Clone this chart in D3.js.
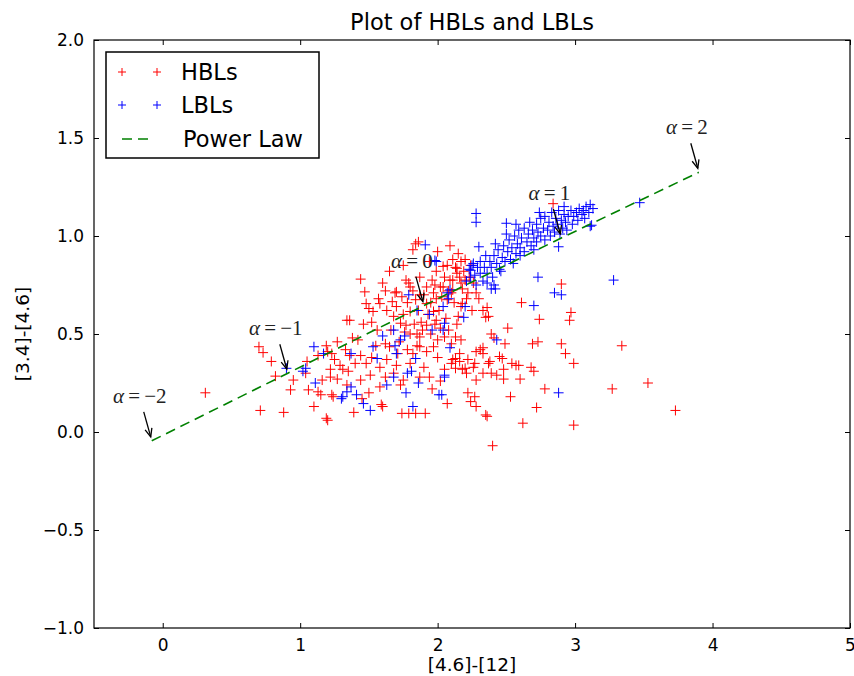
<!DOCTYPE html>
<html>
<head>
<meta charset="utf-8">
<script src="https://cdn.jsdelivr.net/npm/d3@7/dist/d3.min.js"></script>
<style>
    body { margin: 0; background: #fff; }
    svg { font-family: "DejaVu Sans", sans-serif; }
</style>
</head>
<body>
<div id="plot"></div>
<script>
// HBL sources, [x, y] = [[4.6]-[12], [3.4]-[4.6]]
const hblPoints = [
    [0.31,0.20],[0.70,0.435],[0.73,0.405],[0.79,0.36],[0.82,0.285],[0.95,0.265],[0.93,0.215],[1.06,0.215],
    [1.05,0.36],[1.04,0.30],[1.16,0.265],[1.13,0.205],[1.22,0.28],[1.24,0.18],[1.19,0.44],[1.27,0.46],
    [1.34,0.57],[1.20,0.41],[1.25,0.37],[1.29,0.34],[1.31,0.32],[1.22,0.32],[1.27,0.27],[1.10,0.13],
    [0.71,0.11],[0.88,0.10],[1.19,0.07],[1.36,0.39],[1.15,0.19],[1.20,0.06],[1.13,0.39],
    [1.84,0.96],[1.65,0.82],[1.44,0.78],[1.47,0.715],[1.48,0.655],[1.50,0.63],[1.36,0.57],[1.52,0.56],
    [1.56,0.52],[1.23,0.40],[1.33,0.42],[1.44,0.39],[1.48,0.35],[1.35,0.31],[1.44,0.265],[1.51,0.29],
    [1.58,0.23],[1.23,0.19],[1.59,0.14],[1.39,0.10],[1.74,0.095],[1.84,0.095],[1.91,0.095],[2.07,0.145],
    [1.63,0.37],[1.70,0.34],[1.75,0.265],[1.87,0.28],[1.94,0.28],[2.11,0.37],[2.13,0.325],[1.73,0.555],
    [1.77,0.545],[1.85,0.44],[1.87,0.435],[1.82,0.40],[1.65,0.435],[1.62,0.45],[1.68,0.59],[1.70,0.64],
    [1.67,0.665],[1.70,0.715],[1.74,0.69],[1.80,0.615],[1.88,0.56],[1.92,0.545],[1.99,0.57],[1.97,0.615],
    [1.92,0.655],[1.99,0.68],[2.04,0.74],[2.11,0.775],[2.14,0.81],[2.15,0.91],[2.20,0.88],[2.07,0.85],
    [2.17,0.76],[2.10,0.71],[2.17,0.64],[2.15,0.59],[2.13,0.485],[2.17,0.47],[2.00,0.47],[1.97,0.435],
    [2.05,0.485],[1.84,0.675],[1.79,0.76],[1.60,0.76],[1.58,0.655],[1.63,0.62],[1.53,0.615],[1.85,0.50],
    [1.80,0.50],[1.87,0.485],[1.69,0.71],[1.79,0.095],[1.60,0.13],
    [1.86,0.97],[1.82,0.93],[2.11,0.88],[2.17,0.87],[2.14,0.835],[2.04,0.845],[1.99,0.82],[2.16,0.79],
    [2.20,0.775],[2.09,0.775],[1.96,0.775],[1.87,0.79],[1.77,0.775],[1.80,0.74],[1.92,0.74],[2.02,0.74],
    [2.11,0.725],[2.22,0.71],[2.26,0.76],[2.28,0.71],[1.97,0.71],[1.87,0.70],[2.07,0.675],[2.18,0.655],
    [2.33,0.62],[2.37,0.59],[2.84,1.165],
    [2.90,0.755],[2.97,0.61],[2.96,0.57],[2.90,0.45],[2.93,0.40],[2.99,0.35],[3.34,0.44],[3.27,0.22],
    [3.53,0.25],[3.73,0.11],[2.99,0.035],[2.61,0.66],[2.74,0.575],[2.36,0.635],[2.35,0.585],[2.51,0.53],
    [2.39,0.50],[2.41,0.48],[2.49,0.45],[2.69,0.45],[2.73,0.46],[2.31,0.42],[2.33,0.40],[2.45,0.385],
    [2.37,0.35],[2.54,0.35],[2.59,0.34],[2.48,0.32],[2.68,0.33],[2.70,0.31],[2.43,0.29],[2.39,0.30],
    [2.48,0.27],[2.27,0.35],[2.26,0.33],[2.22,0.37],[2.16,0.40],[2.13,0.375],[2.10,0.35],[2.21,0.30],
    [2.18,0.32],[2.33,0.30],[2.78,0.22],[2.53,0.18],[2.22,0.20],[2.27,0.18],[2.24,0.155],[2.28,0.13],
    [2.72,0.125],[2.36,0.08],[2.62,0.045],[2.40,-0.07],[2.60,0.27],[2.57,0.34],[2.47,0.375],[2.38,0.36],
    [2.28,0.265],[2.20,0.325],[2.28,0.41],[2.33,0.43],[2.16,0.36],[2.35,0.087],
    [1.75,0.60],[1.78,0.66],[1.82,0.72],[1.86,0.62],[1.90,0.70],[1.93,0.60],[1.95,0.66],[1.98,0.75],
    [2.01,0.62],[2.03,0.69],[2.05,0.79],[2.06,0.58],[2.08,0.72],[2.12,0.66],[2.13,0.84],[2.18,0.73],
    [2.19,0.82],[2.21,0.68],[2.23,0.79],[2.24,0.85],[2.02,0.53],[1.89,0.52],[1.83,0.55],[1.76,0.51],
    [1.72,0.46],[1.66,0.52],[1.71,0.40],[1.78,0.42],[1.92,0.41],[1.95,0.50],[2.08,0.52],[2.10,0.45],
    [1.68,0.30],[1.80,0.35],[1.90,0.33],[2.00,0.38],[2.05,0.32],[1.73,0.24],[1.96,0.22],[2.02,0.26],
    [1.55,0.44],[1.58,0.33],[1.42,0.47],[1.40,0.35],[1.46,0.55],[1.38,0.48],[1.52,0.38],[1.62,0.28],
    [1.50,0.20],[1.45,0.17],[1.34,0.24],[1.57,0.68],[1.62,0.72],[1.75,0.85],[1.94,0.87],[2.00,0.92],
    [2.09,0.95],[1.98,0.55],[2.14,0.55],[2.25,0.62],[2.30,0.68]
];

// LBL sources
const lblPoints = [
    [2.21,0.77],[2.23,0.83],[2.24,0.79],[2.26,0.86],[2.27,0.80],[2.28,0.75],[2.29,0.84],[2.31,0.81],
    [2.31,0.87],[2.33,0.77],[2.34,0.84],[2.35,0.90],[2.36,0.81],[2.38,0.87],[2.39,0.84],[2.40,0.79],
    [2.41,0.90],[2.43,0.86],[2.44,0.93],[2.45,0.83],[2.47,0.89],[2.48,0.95],[2.49,0.87],[2.51,0.92],
    [2.52,0.98],[2.53,0.88],[2.54,0.94],[2.56,1.00],[2.57,0.91],[2.58,0.96],[2.59,1.03],[2.60,0.94],
    [2.61,0.99],[2.63,0.92],[2.63,1.04],[2.65,0.97],[2.66,1.01],[2.67,1.07],[2.68,0.95],[2.69,1.03],
    [2.70,0.99],[2.72,1.06],[2.72,0.97],[2.73,1.02],[2.75,1.09],[2.75,1.00],[2.77,1.04],[2.78,0.98],
    [2.78,1.10],[2.80,1.03],[2.81,1.07],[2.82,1.00],[2.83,1.12],[2.84,1.05],[2.85,1.02],[2.86,1.09],
    [2.87,1.06],[2.88,1.13],[2.89,1.01],[2.90,1.08],[2.91,1.04],[2.92,1.11],[2.93,1.07],[2.94,1.03],
    [2.95,1.10],[2.97,1.13],[2.98,1.06],[2.99,1.10],[3.01,1.12],[3.02,1.08],[3.03,1.14],[3.05,1.11],
    [3.06,1.13],[3.07,1.09],[3.08,1.15],[3.10,1.12],[3.11,1.16],[3.13,1.14],[2.60,0.90],[2.70,0.93],
    [2.55,0.86],[2.46,0.82],[2.36,0.76],[2.57,1.06],[2.50,1.01],[2.42,0.96],[2.92,1.15],[2.74,1.12],
    [2.28,1.115],[2.28,1.07],[2.50,1.065],[3.12,1.055],[3.11,1.05],[3.47,1.17],[3.28,0.775],[2.73,0.79],
    [2.85,0.71],[2.90,0.70],[2.70,0.645],[2.88,0.945],[2.43,0.47],[2.05,0.29],[2.09,0.43],[2.19,0.585],
    [2.42,0.73],[2.41,0.75],[2.03,0.19],[2.88,0.20],[1.91,0.955],[1.99,0.87],[1.79,0.70],[1.85,0.62],
    [1.94,0.60],[2.04,0.64],[2.05,0.555],[1.96,0.52],[1.68,0.52],[1.76,0.49],[1.73,0.47],[1.69,0.44],
    [1.60,0.49],[1.53,0.435],[1.37,0.40],[1.70,0.40],[1.56,0.375],[1.84,0.375],[1.81,0.31],[1.78,0.30],
    [1.68,0.28],[1.86,0.25],[1.63,0.24],[1.77,0.20],[2.01,0.19],[2.05,0.28],[1.37,0.23],[1.31,0.18],
    [1.41,0.19],[1.46,0.145],[1.51,0.11],[1.82,0.13],[2.08,0.68],[2.04,0.52],[1.10,0.435],[1.17,0.40],
    [1.04,0.325],[0.90,0.325],[1.11,0.25],[1.30,0.17],[1.34,0.205],[1.98,0.875],[2.30,0.945],[2.39,0.73],
    [2.25,0.85],[2.24,0.825],[2.09,0.725],[2.20,0.64],[2.07,0.71],[1.02,0.31]
];

// power law track, one point per alpha
const alphaValues = [-2, -1, 0, 1, 2];
const powerLawX = [-0.08, 0.91, 1.90, 2.90, 3.90];
const powerLawY = [-0.045, 0.30, 0.645, 0.99, 1.325];

const xTicks = [0, 1, 2, 3, 4, 5];
const yTicks = [-1.0, -0.5, 0.0, 0.5, 1.0, 1.5, 2.0];

const width = 854, height = 676;
const margin = { top: 40, right: 4, bottom: 48, left: 94 };
const innerW = width - margin.left - margin.right;
const innerH = height - margin.top - margin.bottom;

const svg = d3.select("#plot").append("svg")
    .attr("width", width)
    .attr("height", height);

const g = svg.append("g")
    .attr("transform", `translate(${margin.left},${margin.top})`);

const x = d3.scaleLinear().domain([-0.5, 5]).range([0, innerW]);
const y = d3.scaleLinear().domain([-1, 2]).range([innerH, 0]);

const minus = s => s.replace("-", "\u2212");

// axes, ticks pointing inwards on all sides
const tickLen = 5;
g.append("g")
    .attr("transform", `translate(0,${innerH})`)
    .call(d3.axisBottom(x).tickValues(xTicks).tickSize(-tickLen).tickPadding(11).tickFormat(d3.format("d")));
g.append("g")
    .call(d3.axisTop(x).tickValues(xTicks).tickSize(-tickLen).tickFormat(""));
g.append("g")
    .call(d3.axisLeft(y).tickValues(yTicks).tickSize(-tickLen).tickPadding(10).tickFormat(d => minus(d3.format(".1f")(d))));
g.append("g")
    .attr("transform", `translate(${innerW},0)`)
    .call(d3.axisRight(y).tickValues(yTicks).tickSize(-tickLen).tickFormat(""));

g.selectAll(".domain").remove();
g.selectAll(".tick line").attr("stroke", "#000");
g.selectAll(".tick text")
    .attr("fill", "#000")
    .attr("font-size", 17)
    .attr("font-family", "DejaVu Sans, sans-serif");

g.append("rect")
    .attr("width", innerW)
    .attr("height", innerH)
    .attr("fill", "none")
    .attr("stroke", "#000")
    .attr("stroke-width", 1.2);

const plotArea = g.append("g");

function drawCrosses(points, color) {
    const arm = 5;
    plotArea.append("g")
        .selectAll("path")
        .data(points)
        .enter()
        .append("path")
            .attr("d", d => {
                let px = x(d[0]), py = y(d[1]);
                return `M${px - arm},${py}H${px + arm}M${px},${py - arm}V${py + arm}`;
            })
            .attr("stroke", color)
            .attr("stroke-width", 1)
            .attr("fill", "none");
}

drawCrosses(hblPoints, "#ff0000");
drawCrosses(lblPoints, "#0000ff");

const lawData = powerLawX.map((v, i) => ({ x: v, y: powerLawY[i], alpha: alphaValues[i] }));

plotArea.append("path")
    .datum(lawData)
    .attr("d", d3.line().x(d => x(d.x)).y(d => y(d.y)))
    .attr("fill", "none")
    .attr("stroke", "#008000")
    .attr("stroke-width", 1.6)
    .attr("stroke-dasharray", "10,6");

// alpha annotations with arrows
const notes = plotArea.selectAll(".note")
    .data(lawData)
    .enter()
    .append("g")
        .attr("class", "note")
        .attr("transform", d => `translate(${x(d.x)},${y(d.y)})`);

notes.append("line")
    .attr("x1", -8).attr("y1", -29)
    .attr("x2", -1).attr("y2", -4)
    .attr("stroke", "#000")
    .attr("stroke-width", 1.3);
notes.append("path")
    .attr("d", () => {
        // small open head pointing along the arrow
        let ang = Math.atan2(25, 7);
        let hx = -1, hy = -4, len = 9, spread = 0.4;
        let a1 = ang + Math.PI - spread, a2 = ang + Math.PI + spread;
        return `M${hx + len * Math.cos(a1)},${hy + len * Math.sin(a1)}L${hx},${hy}L${hx + len * Math.cos(a2)},${hy + len * Math.sin(a2)}`;
    })
    .attr("fill", "none")
    .attr("stroke", "#000")
    .attr("stroke-width", 1.3);

const noteText = notes.append("text")
    .attr("x", -12)
    .attr("y", -38)
    .attr("text-anchor", "middle")
    .attr("font-family", "Liberation Serif, serif")
    .attr("font-size", 21)
    .attr("fill", "#222");
noteText.append("tspan").attr("font-style", "italic").text("\u03b1");
noteText.append("tspan").text(d => "\u2009=\u2009" + minus(String(d.alpha)));

// title and labels
svg.append("text")
    .attr("x", margin.left + innerW / 2)
    .attr("y", 30)
    .attr("text-anchor", "middle")
    .attr("font-size", 22.5)
    .text("Plot of HBLs and LBLs");

svg.append("text")
    .attr("x", margin.left + innerW / 2)
    .attr("y", 671)
    .attr("text-anchor", "middle")
    .attr("font-size", 18.5)
    .text("[4.6]-[12]");

svg.append("text")
    .attr("transform", `translate(29,${margin.top + innerH / 2}) rotate(-90)`)
    .attr("text-anchor", "middle")
    .attr("font-size", 18.5)
    .text("[3.4]-[4.6]");

// legend
const legendItems = [
    { label: "HBLs", color: "#ff0000", kind: "cross" },
    { label: "LBLs", color: "#0000ff", kind: "cross" },
    { label: "Power Law", color: "#008000", kind: "dash" }
];

const legend = svg.append("g").attr("transform", "translate(106,52)");
legend.append("rect")
    .attr("width", 213)
    .attr("height", 106)
    .attr("fill", "#fff")
    .attr("stroke", "#000")
    .attr("stroke-width", 1.5);

const rows = legend.selectAll(".row")
    .data(legendItems)
    .enter()
    .append("g")
        .attr("transform", (d, i) => `translate(0,${[20, 53, 87][i]})`);

rows.filter(d => d.kind === "cross").each(function(d) {
    let row = d3.select(this);
    [16, 51].forEach(cx => {
        row.append("path")
            .attr("d", `M${cx - 4},0H${cx + 4}M${cx},-4V4`)
            .attr("stroke", d.color)
            .attr("stroke-width", 1);
    });
});
rows.filter(d => d.kind === "dash").append("line")
    .attr("x1", 16).attr("x2", 47)
    .attr("stroke", d => d.color)
    .attr("stroke-width", 1.6)
    .attr("stroke-dasharray", "10,6");

rows.append("text")
    .attr("x", (d, i) => i === 2 ? 77 : 75)
    .attr("y", 8)
    .attr("font-size", 22.5)
    .text(d => d.label);
</script>
</body>
</html>
